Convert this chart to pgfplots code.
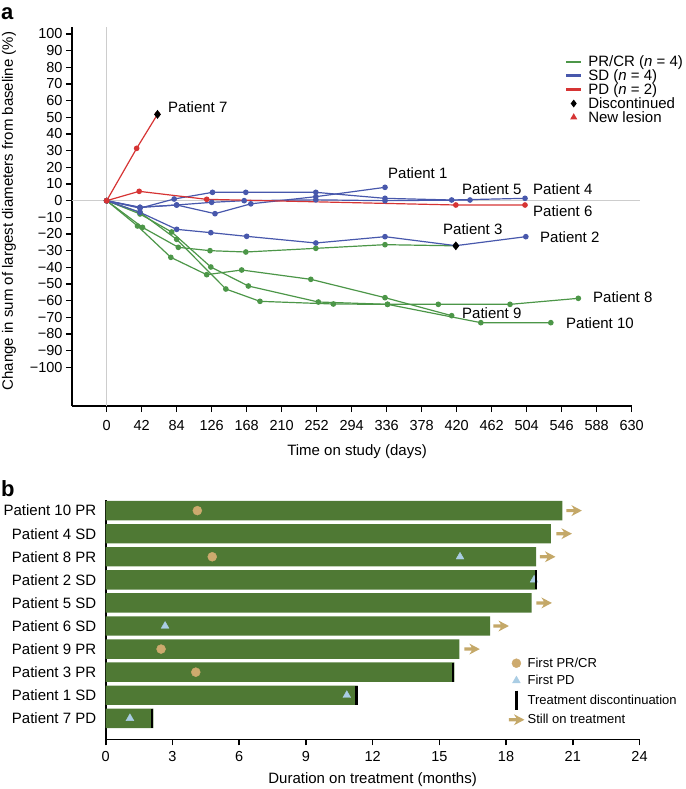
\documentclass[border=0pt]{standalone}
\usepackage{fontspec}
\setmainfont{Liberation Sans}
\usepackage{pgfplots}
\pgfplotsset{compat=1.18}

\definecolor{prGreen}{RGB}{76,150,72}
\definecolor{sdBlue}{RGB}{72,88,172}
\definecolor{pdRed}{RGB}{214,52,52}
\definecolor{refGray}{RGB}{205,205,205}
\definecolor{barGreen}{RGB}{79,121,52}
\definecolor{tanDot}{RGB}{205,170,110}
\definecolor{tanArrow}{RGB}{196,168,104}
\definecolor{pdBlue}{RGB}{170,205,228}

% arrow for "still on treatment"
\pgfdeclareplotmark{stillon}{%
  \pgfpathmoveto{\pgfpoint{1.6\pgfplotmarksize}{0pt}}%
  \pgfpathlineto{\pgfpoint{-0.5\pgfplotmarksize}{1.1\pgfplotmarksize}}%
  \pgfpathlineto{\pgfpoint{0pt}{0.32\pgfplotmarksize}}%
  \pgfpathlineto{\pgfpoint{-1.5\pgfplotmarksize}{0.32\pgfplotmarksize}}%
  \pgfpathlineto{\pgfpoint{-1.5\pgfplotmarksize}{-0.32\pgfplotmarksize}}%
  \pgfpathlineto{\pgfpoint{0pt}{-0.32\pgfplotmarksize}}%
  \pgfpathlineto{\pgfpoint{-0.5\pgfplotmarksize}{-1.1\pgfplotmarksize}}%
  \pgfpathclose\pgfusepathqfill}

\pgfplotsset{
  panel/.style={
    scale only axis, clip=false,
    axis x line*=bottom, axis y line*=left,
    axis line style={line width=1.6pt, black},
    tick align=outside, major tick length=6pt,
    tick style={line width=1.6pt, black},
    /pgf/number format/assume math mode=true,
    tick label style={font=\fontsize{14.5}{16}\selectfont},
    label style={font=\fontsize{15}{17}\selectfont},
    legend cell align=left,
  },
  linekey/.style={legend image code/.code={\fill[#1] (0pt,-0.75pt) rectangle (14pt,0.75pt); \path (19pt,0pt);}},
}

\begin{document}
\begin{tikzpicture}
\useasboundingbox (0pt,0pt) rectangle (685pt,-789pt);

\node[anchor=base west, inner sep=0pt, font=\bfseries\fontsize{22}{22}\selectfont] at (1pt,-20pt) {a};
\node[anchor=base west, inner sep=0pt, font=\bfseries\fontsize{22}{22}\selectfont] at (1pt,-496pt) {b};

% ---- panel a: change in tumour size
\begin{axis}[panel,
  at={(72pt,-406pt)}, anchor=south west,
  width=560pt, height=379pt,
  xmin=-41.6, xmax=630.4, ymin=-123.2, ymax=104.2,
  xtick={0,42,...,630},
  ytick={-100,-90,...,100},
  yticklabels={−100,−90,−80,−70,−60,−50,−40,−30,−20,−10,0,10,20,30,40,50,60,70,80,90,100},
  xticklabel shift=5pt,
  xlabel={Time on study (days)},
  ylabel={Change in sum of largest diameters from baseline (\%)},
  xlabel style={at={(axis description cs:0.509,-0.121)}, anchor=center},
  ylabel style={at={(axis description cs:-0.1125,0.5145)}, anchor=center},
  legend image code/.code={\draw[mark repeat=2,mark phase=2,#1] plot coordinates {(0pt,0pt)(7pt,0pt)(14pt,0pt)};
    \path (19pt,0pt);},
  legend style={at={(0.882,0.93)}, anchor=north west, draw=none, fill=none,
    font=\fontsize{15}{15}\selectfont, row sep=-2.5pt, inner sep=0pt},
  every axis plot/.append style={line width=1.2pt, mark=*, mark size=2.2pt},
]
\draw[refGray, line width=1pt] (axis cs:0,-123.2) -- (axis cs:0,104.2);
\draw[refGray, line width=1pt] (axis cs:-41.6,0) -- (axis cs:640,0);

\addlegendimage{linekey=prGreen}
\addlegendentry{PR/CR (\textit{n} = 4)}
\addlegendimage{linekey=sdBlue}
\addlegendentry{SD (\textit{n} = 4)}
\addlegendimage{linekey=pdRed}
\addlegendentry{PD (\textit{n} = 2)}
\addlegendimage{black, only marks, mark=diamond*, mark size=3pt}
\addlegendentry{Discontinued}
\addlegendimage{pdRed, only marks, mark=triangle*, mark size=3pt}
\addlegendentry{New lesion}

% PR/CR
\addplot[prGreen, forget plot] coordinates {(0,0)(43,-16)(86,-28)(124,-30)(167,-30.8)(251,-28.6)(334,-26.4)(419,-27.1)}; % patient 3
\addplot[prGreen, forget plot] coordinates {(0,0)(37,-15.2)(77,-34)(120,-44.4)(162,-41.6)(245,-47.2)(334,-58.2)(414,-69)}; % patient 9
\addplot[prGreen, forget plot] coordinates {(0,0)(40,-7)(84,-23.2)(143,-53)(184,-60.4)(272,-62)(337,-62.2)(398,-62.2)(484,-62.2)(566,-58.6)}; % patient 8
\addplot[prGreen, forget plot] coordinates {(0,0)(40,-8)(78,-18.8)(125,-39.8)(170,-51.2)(254,-60.8)(337,-62.2)(449,-73.2)(533,-73.2)}; % patient 10
% SD
\addplot[sdBlue, forget plot] coordinates {(0,0)(40,-7)(84,-17.2)(125,-19.2)(168,-21.4)(251,-25.4)(334,-21.6)(419,-27)(503,-21.6)}; % patient 2
\addplot[sdBlue, forget plot] coordinates {(0,0)(40,-4)(84,-2.6)(130,-7.8)(173,-1.9)(251,2.4)(334,8)}; % patient 1
\addplot[sdBlue, forget plot] coordinates {(0,0)(40,-4.5)(81,1)(127,5)(167,5)(251,5)(334,1.4)(414,0.4)(502,1.4)}; % patient 4
\addplot[sdBlue, forget plot] coordinates {(0,0)(40,-4)(84,-2.6)(126,-1)(165,0)(251,0.5)(334,0)(436,0.4)}; % patient 5
% PD
\addplot[pdRed, forget plot] coordinates {(0,0)(39,5.6)(120,0.8)(419,-2.6)(502,-2.6)}; % patient 6
\addplot[pdRed, forget plot] coordinates {(0,0)(36,31.4)(61,51.8)}; % patient 7
% discontinued
\addplot[black, only marks, mark=diamond*, mark size=3.5pt, forget plot] coordinates {(61,51.8)(419,-27.1)};

\begin{scope}[every node/.style={anchor=west, inner sep=0pt, font=\fontsize{15}{17}\selectfont}]
\node at (axis cs:73.6,56.2) {Patient 7};
\node at (axis cs:337.6,16.6) {Patient 1};
\node at (axis cs:426.4,7.1) {Patient 5};
\node at (axis cs:511.6,7.1) {Patient 4};
\node at (axis cs:511.6,-6.2) {Patient 6};
\node at (axis cs:403.6,-17) {Patient 3};
\node at (axis cs:520,-21.7) {Patient 2};
\node at (axis cs:583.6,-58) {Patient 8};
\node at (axis cs:426.4,-67.3) {Patient 9};
\node at (axis cs:551.2,-73.3) {Patient 10};
\end{scope}
\end{axis}

% ---- panel b: swimmer plot
\begin{axis}[panel,
  at={(105.7pt,-739.3pt)}, anchor=south west,
  width=533.8pt, height=239.3pt,
  xmin=0, xmax=24, ymin=-0.91, ymax=9.46,
  xtick={0,3,...,24},
  ytick={0,1,...,9},
  yticklabels={Patient 7 PD,Patient 1 SD,Patient 3 PR,Patient 9 PR,Patient 6 SD,Patient 5 SD,Patient 2 SD,Patient 8 PR,Patient 4 SD,Patient 10 PR},
  ytick style={draw=none},
  y tick label style={font=\fontsize{15}{17}\selectfont},
  xticklabel shift=3pt,
  xlabel={Duration on treatment (months)},
  xlabel style={at={(axis description cs:0.5,-0.17)}, anchor=center},
  legend image code/.code={\draw[mark repeat=2,mark phase=2,#1] plot coordinates {(0pt,0pt)(7pt,0pt)(14pt,0pt)};
    \path (16pt,0pt);},
  legend style={at={(0.755,0.35)}, anchor=north west, draw=none, fill=none,
    font=\fontsize{13}{13}\selectfont, row sep=2.5pt, inner sep=0pt},
]
\addplot[xbar, bar width=0.84, bar shift=0pt, fill=barGreen, draw=none, forget plot]
  coordinates {(2.14,0)(11.33,1)(15.68,2)(15.9,3)(17.28,4)(19.15,5)(19.38,6)(19.35,7)(20.02,8)(20.53,9)};

\addplot[only marks, mark=*, mark size=4.5pt, tanDot, mark options={draw=none, fill=tanDot}]
  coordinates {(4.12,9)(4.79,7)(2.49,3)(4.05,2)};
\addlegendentry{First PR/CR}
\addplot[only marks, mark=triangle*, mark size=4.5pt, pdBlue, mark options={draw=none, fill=pdBlue}]
  coordinates {(2.67,4)(1.09,0)(10.84,1)(15.93,7)(19.26,6)};
\addlegendentry{First PD}
\addplot[only marks, mark=|, mark size=9.6pt, black, mark options={line width=2.2pt}]
  coordinates {(2.09,0)(11.28,1)(15.63,2)(19.33,6)};
\addlegendentry{Treatment discontinuation}
\addplot[only marks, mark=stillon, mark size=5pt, tanArrow]
  coordinates {(21.05,9)(20.6,8)(19.86,7)(19.7,5)(17.77,4)(16.46,3)};
\addlegendentry{Still on treatment}
\end{axis}
\end{tikzpicture}
\end{document}
